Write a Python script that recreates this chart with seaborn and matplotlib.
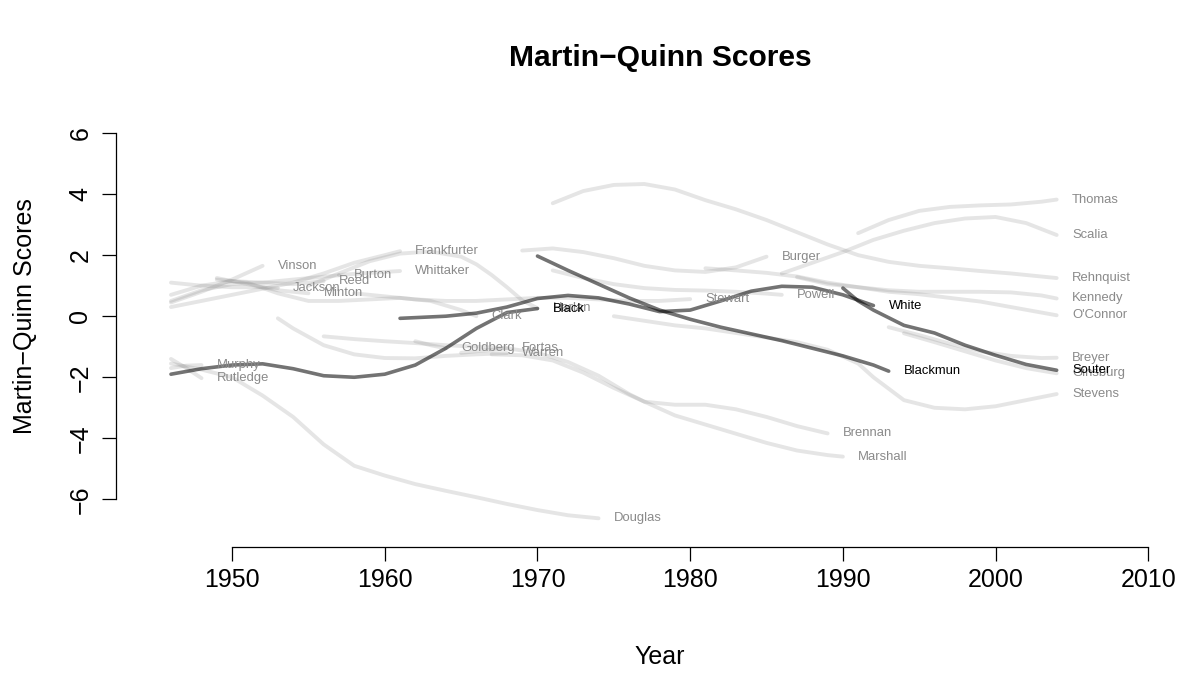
import matplotlib
matplotlib.use("Agg")
import matplotlib.pyplot as plt
import seaborn as sns
import pandas as pd

# ---------------- data ----------------
black = ([1946, 1948, 1950, 1952, 1954, 1956, 1958, 1960, 1962, 1964, 1966, 1968, 1970],
         [-1.9, -1.72, -1.6, -1.56, -1.72, -1.95, -2.0, -1.9, -1.6, -1.05, -0.4, 0.12, 0.25])
white = ([1961, 1964, 1966, 1968, 1970, 1972, 1974, 1976, 1978, 1980, 1982, 1984, 1986, 1988, 1990, 1992],
         [-0.07, 0.0, 0.1, 0.3, 0.58, 0.68, 0.6, 0.4, 0.15, 0.2, 0.5, 0.82, 0.98, 0.95, 0.7, 0.35])
blackmun = ([1970, 1972, 1974, 1976, 1978, 1980, 1982, 1984, 1986, 1988, 1990, 1992, 1993],
            [1.97, 1.5, 1.05, 0.6, 0.2, -0.1, -0.36, -0.58, -0.8, -1.05, -1.3, -1.6, -1.8])
souter = ([1990, 1991, 1992, 1994, 1996, 1998, 2000, 2002, 2004],
          [0.92, 0.5, 0.2, -0.3, -0.55, -0.95, -1.28, -1.58, -1.77])

thomas = ([1991, 1993, 1995, 1997, 1999, 2001, 2003, 2004],
          [2.72, 3.15, 3.45, 3.58, 3.63, 3.66, 3.75, 3.82])
scalia = ([1986, 1988, 1990, 1992, 1994, 1996, 1998, 2000, 2002, 2004],
          [1.4, 1.75, 2.1, 2.5, 2.8, 3.05, 3.2, 3.25, 3.05, 2.66])
rehnquist = ([1971, 1973, 1975, 1977, 1979, 1981, 1983, 1985, 1987, 1989, 1991, 1993, 1995, 1997, 1999, 2001, 2003, 2004],
             [3.7, 4.1, 4.3, 4.33, 4.15, 3.8, 3.5, 3.15, 2.75, 2.35, 2.0, 1.78, 1.65, 1.57, 1.48, 1.4, 1.3, 1.25])
kennedy = ([1987, 1989, 1991, 1993, 1995, 1997, 1999, 2001, 2003, 2004],
           [1.28, 1.05, 0.95, 0.85, 0.8, 0.8, 0.8, 0.78, 0.68, 0.58])
oconnor = ([1981, 1983, 1985, 1987, 1989, 1991, 1993, 1995, 1997, 1999, 2001, 2003, 2004],
           [1.57, 1.5, 1.42, 1.3, 1.1, 0.95, 0.8, 0.72, 0.6, 0.48, 0.3, 0.12, 0.03])
breyer = ([1993, 1995, 1997, 1999, 2001, 2003, 2004],
          [-0.36, -0.62, -0.9, -1.15, -1.3, -1.37, -1.36])
ginsburg = ([1994, 1996, 1998, 2000, 2002, 2004],
            [-0.56, -0.85, -1.15, -1.45, -1.7, -1.87])
stevens = ([1975, 1977, 1979, 1981, 1983, 1985, 1987, 1989, 1991, 1992, 1994, 1996, 1998, 2000, 2002, 2004],
           [0.0, -0.15, -0.3, -0.4, -0.55, -0.7, -0.85, -1.1, -1.55, -2.0, -2.75, -3.0, -3.05, -2.95, -2.75, -2.55])
powell = ([1971, 1973, 1975, 1977, 1979, 1981, 1983, 1985, 1986],
          [1.5, 1.25, 1.05, 0.92, 0.86, 0.84, 0.8, 0.74, 0.7])
burger = ([1969, 1971, 1973, 1975, 1977, 1979, 1981, 1983, 1985],
          [2.15, 2.22, 2.1, 1.9, 1.65, 1.5, 1.45, 1.6, 1.95])
stewart = ([1958, 1960, 1962, 1964, 1966, 1968, 1970, 1972, 1974, 1976, 1978, 1980],
           [0.75, 0.65, 0.55, 0.5, 0.5, 0.55, 0.6, 0.6, 0.55, 0.5, 0.5, 0.56])
harlan = ([1955, 1957, 1959, 1961, 1963, 1965, 1966, 1967, 1968, 1969, 1970],
          [1.0, 1.4, 1.8, 2.05, 2.12, 1.95, 1.7, 1.35, 0.95, 0.52, 0.26])
frankfurter = ([1946, 1948, 1950, 1952, 1954, 1956, 1958, 1960, 1961],
               [0.3, 0.5, 0.7, 0.9, 1.1, 1.4, 1.75, 2.0, 2.13])
whittaker = ([1957, 1959, 1961],
             [1.35, 1.42, 1.48])
vinson = ([1946, 1948, 1950, 1952],
          [0.45, 0.8, 1.2, 1.65])
jackson = ([1946, 1948, 1950, 1952, 1953],
           [1.1, 1.0, 0.95, 0.95, 0.92])
reed = ([1946, 1948, 1950, 1952, 1954, 1956],
        [0.7, 1.0, 1.15, 1.1, 1.05, 1.15])
burton = ([1946, 1948, 1950, 1952, 1954, 1957],
          [0.5, 0.85, 1.05, 1.1, 1.2, 1.34])
minton = ([1949, 1951, 1953, 1955],
          [1.25, 1.05, 0.85, 0.75])
clark = ([1949, 1951, 1953, 1955, 1957, 1959, 1961, 1963, 1965, 1966],
         [1.2, 1.1, 0.75, 0.5, 0.5, 0.55, 0.6, 0.5, 0.2, 0.0])
murphy = ([1946, 1947, 1948],
          [-1.7, -1.62, -1.6])
rutledge = ([1946, 1947, 1948],
            [-1.4, -1.7, -2.03])
douglas = ([1946, 1948, 1950, 1952, 1954, 1956, 1958, 1960, 1962, 1964, 1966, 1968, 1970, 1972, 1974],
           [-1.55, -1.75, -2.0, -2.6, -3.3, -4.2, -4.9, -5.22, -5.5, -5.72, -5.93, -6.15, -6.35, -6.52, -6.62])
warren = ([1953, 1954, 1956, 1958, 1960, 1962, 1964, 1966, 1968],
          [-0.07, -0.4, -0.95, -1.25, -1.37, -1.38, -1.3, -1.25, -1.21])
goldberg = ([1962, 1963, 1964],
            [-0.82, -0.95, -1.05])
fortas = ([1965, 1966, 1967, 1968],
          [-1.2, -1.15, -1.1, -1.05])
brennan = ([1956, 1958, 1960, 1962, 1964, 1966, 1968, 1970, 1972, 1974, 1976, 1977, 1979, 1981, 1983, 1985, 1987, 1989],
           [-0.66, -0.75, -0.82, -0.88, -0.95, -1.0, -1.05, -1.2, -1.5, -1.95, -2.55, -2.8, -2.9, -2.9, -3.05, -3.3, -3.6, -3.84])
marshall = ([1967, 1969, 1971, 1973, 1975, 1977, 1979, 1981, 1983, 1985, 1987, 1989, 1990],
            [-1.25, -1.28, -1.45, -1.85, -2.35, -2.8, -3.25, -3.55, -3.85, -4.15, -4.4, -4.55, -4.6])

light_justices = {
    "Thomas": thomas, "Scalia": scalia, "Rehnquist": rehnquist, "Kennedy": kennedy,
    "O'Connor": oconnor, "Breyer": breyer, "Ginsburg": ginsburg, "Stevens": stevens,
    "Powell": powell, "Burger": burger, "Stewart": stewart, "Harlan": harlan,
    "Frankfurter": frankfurter, "Whittaker": whittaker, "Vinson": vinson,
    "Jackson": jackson, "Reed": reed, "Burton": burton, "Minton": minton,
    "Clark": clark, "Murphy": murphy, "Rutledge": rutledge, "Douglas": douglas,
    "Warren": warren, "Goldberg": goldberg, "Fortas": fortas, "Brennan": brennan,
    "Marshall": marshall,
}
dark_justices = {"Black": black, "White": white, "Blackmun": blackmun, "Souter": souter}

x_ticks = [1950, 1960, 1970, 1980, 1990, 2000, 2010]
y_ticks = [-6, -4, -2, 0, 2, 4, 6]


def to_long(d):
    rows = []
    for name, (yrs, sc) in d.items():
        for y, s in zip(yrs, sc):
            rows.append((name, y, s))
    return pd.DataFrame(rows, columns=["justice", "year", "score"])


df_light = to_long(light_justices)
df_dark = to_long(dark_justices)

# ---------------- figure ----------------
sns.set_style("white")
plt.rcParams["font.family"] = ["Liberation Sans", "DejaVu Sans"]
plt.rcParams["text.color"] = "black"
plt.rcParams["axes.labelcolor"] = "black"

fig = plt.figure(figsize=(11.83, 6.73), dpi=100)
ax = fig.add_axes([116 / 1183, 1 - 547 / 673, (1188 - 116) / 1183, (547 - 85.4) / 673])

sns.lineplot(data=df_light, x="year", y="score", units="justice", estimator=None,
             sort=False, color="#808080", alpha=0.2, lw=2.8, ax=ax,
             solid_capstyle="round", legend=False)
sns.lineplot(data=df_dark, x="year", y="score", units="justice", estimator=None,
             sort=False, color="black", alpha=0.55, lw=2.6, ax=ax,
             solid_capstyle="round", legend=False)

for name, (yrs, sc) in light_justices.items():
    ax.text(yrs[-1] + 1.0, sc[-1], name, ha="left", va="center",
            fontsize=9.4, color="#8a8a8a")
for name, (yrs, sc) in dark_justices.items():
    ax.text(yrs[-1] + 1.0, sc[-1], name, ha="left", va="center",
            fontsize=9.4, color="black")

ax.set_xlim(1942.4, 2012.6)
ax.set_ylim(-7.56, 7.56)
ax.set_xticks(x_ticks)
ax.set_yticks(y_ticks)
ax.set_xticklabels([str(t) for t in x_ticks])
ax.set_yticklabels([str(t).replace("-", "\u2212") for t in y_ticks])
ax.set_xlabel("")
ax.set_ylabel("")

for s in ["top", "right"]:
    ax.spines[s].set_visible(False)
ax.spines["left"].set_bounds(-6, 6)
ax.spines["bottom"].set_bounds(1950, 2010)
for s in ["left", "bottom"]:
    ax.spines[s].set_color("black")
    ax.spines[s].set_linewidth(0.9)
ax.tick_params(axis="both", direction="out", length=10, width=0.9, color="black",
               labelsize=18, labelcolor="black")
ax.tick_params(axis="x", pad=5, bottom=True)
ax.tick_params(axis="y", pad=7, left=True, labelrotation=90)
for lab in ax.get_yticklabels():
    lab.set_va("center")
ax.grid(False)

fig.text(660 / 1183, 1 - 58 / 673, "Martin\u2212Quinn Scores", ha="center", va="center",
         fontsize=21.6, fontweight="bold", color="black")
fig.text(25 / 1183, 1 - 316 / 673, "Martin\u2212Quinn Scores", ha="center", va="center",
         fontsize=18, rotation=90, color="black")
fig.text(660 / 1183, 1 - 657 / 673, "Year", ha="center", va="center", fontsize=18,
         color="black")

fig.savefig("out.png", dpi=100)
